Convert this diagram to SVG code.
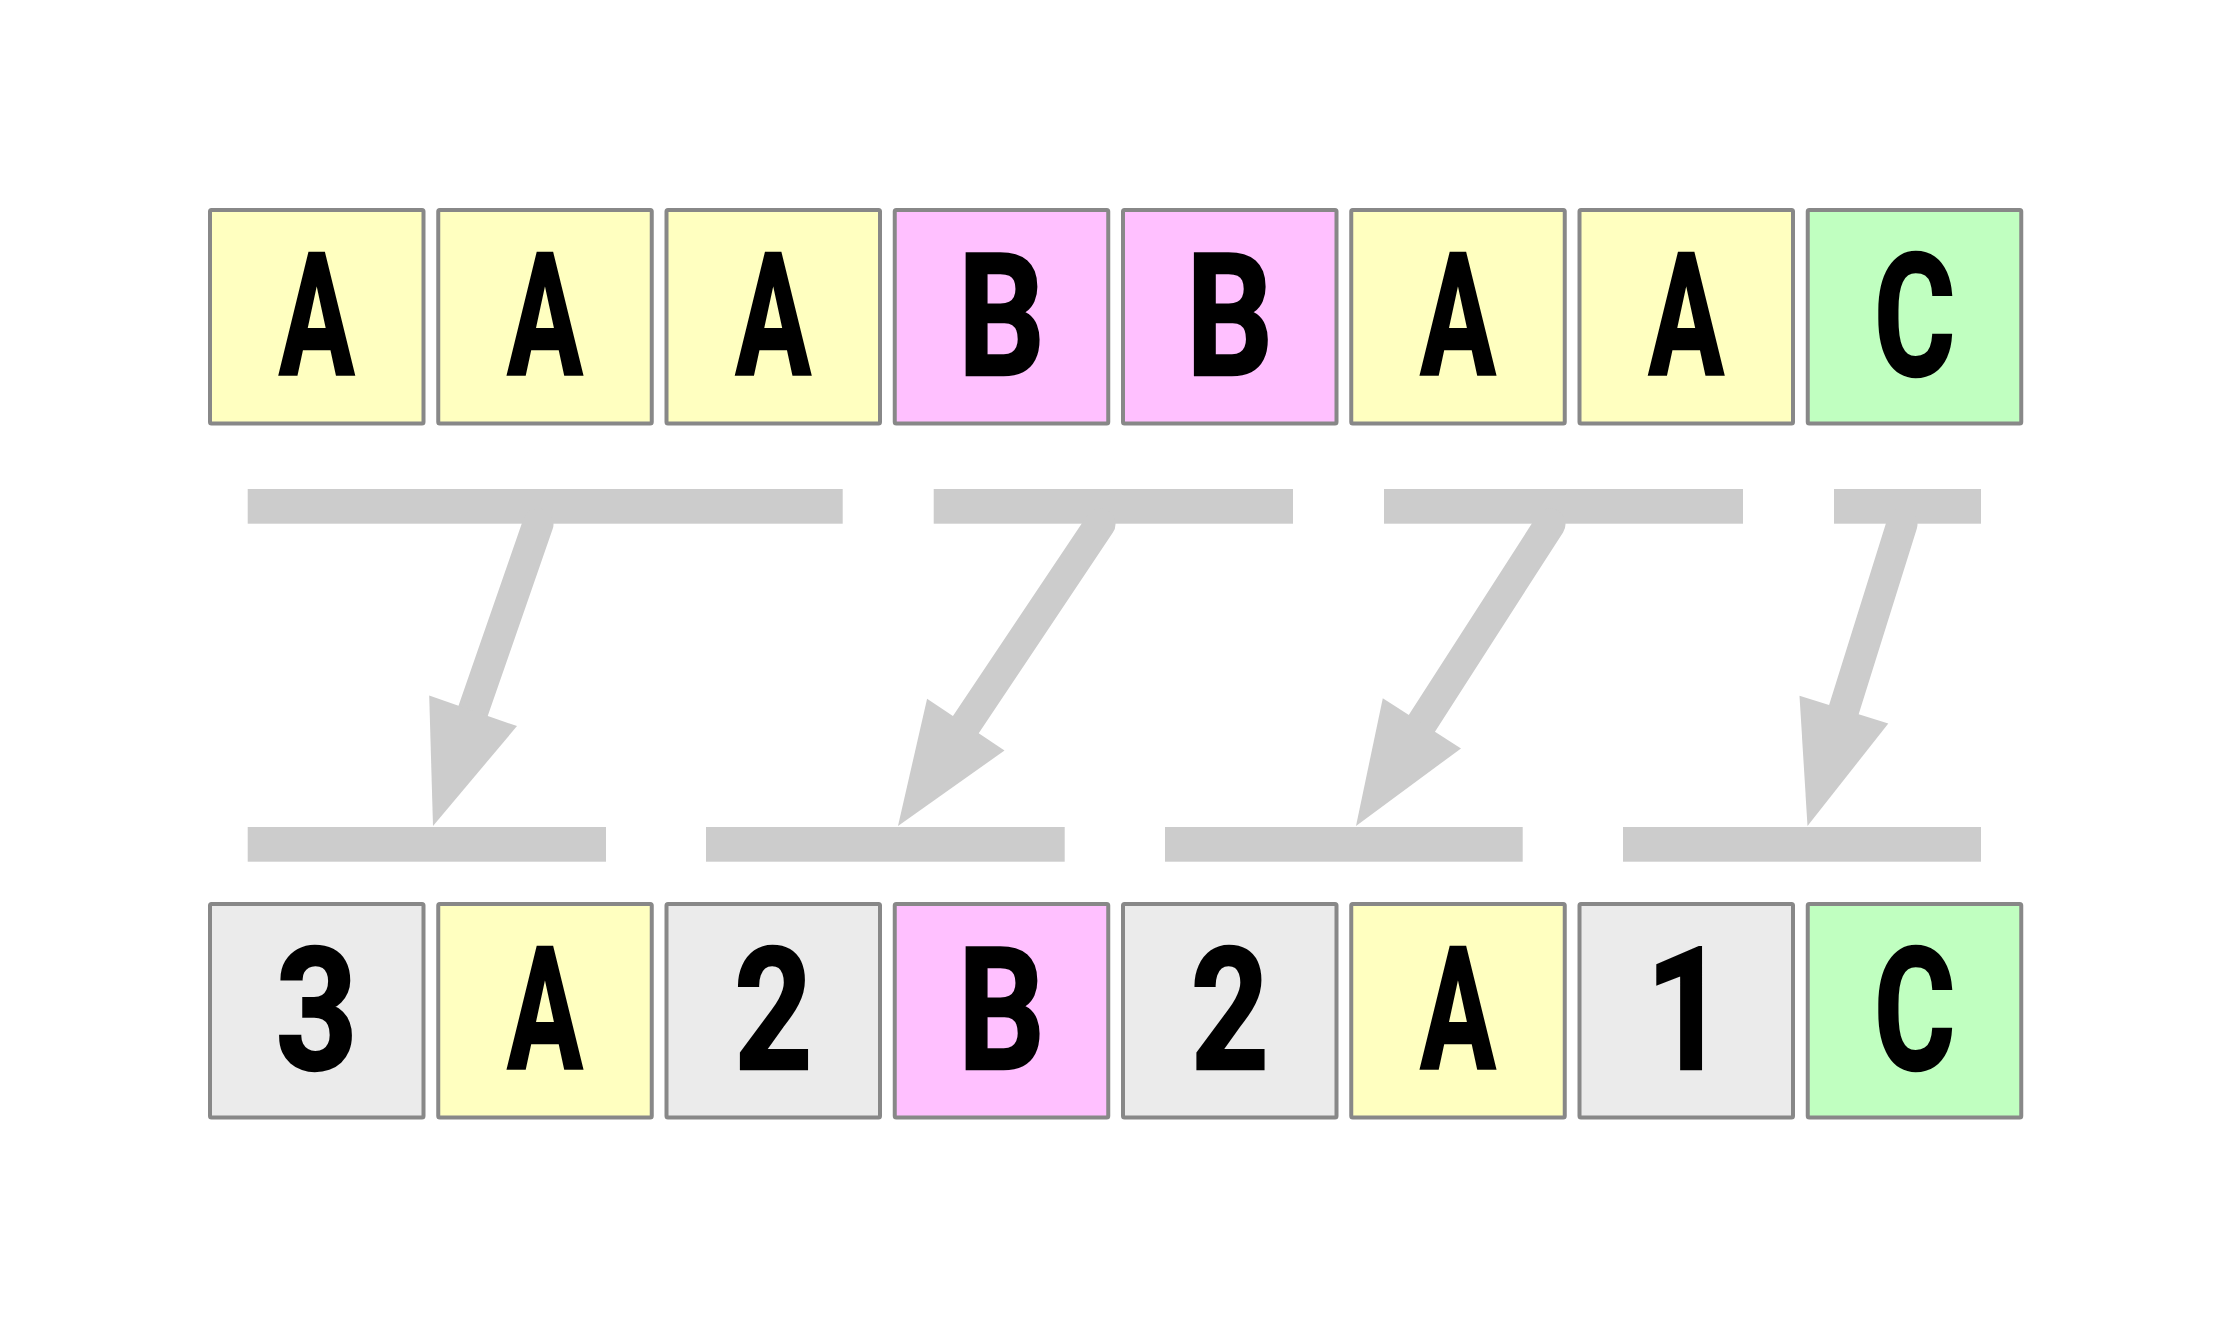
<svg xmlns="http://www.w3.org/2000/svg" width="2231" height="1329" viewBox="0 0 2231 1329">
<style>
.box{stroke:#888888;stroke-width:4}
.a{fill:#FFFFC0}.b{fill:#FFC0FF}.c{fill:#C0FFC0}.n{fill:#EBEBEB}
.t{font-family:Roboto,"Liberation Sans",sans-serif;font-weight:bold;font-size:170px;fill:#000;stroke:#000;stroke-width:2.5;stroke-linejoin:miter;text-anchor:middle}
.bar{fill:#CCCCCC}
.shaft{stroke:#CCCCCC;stroke-width:31;stroke-linecap:round;fill:none}
.head{fill:#CCCCCC}
</style>
<rect width="2231" height="1329" fill="#FFFFFF"/>
<g id="top-row">
<g id="t1"><rect class="box a" x="210" y="210" width="213.5" height="213.5" rx="1.5"/><text class="t" transform="translate(316.75,374.5) scale(0.66,1)">A</text></g>
<g id="t2"><rect class="box a" x="438.25" y="210" width="213.5" height="213.5" rx="1.5"/><text class="t" transform="translate(545,374.5) scale(0.66,1)">A</text></g>
<g id="t3"><rect class="box a" x="666.5" y="210" width="213.5" height="213.5" rx="1.5"/><text class="t" transform="translate(773.25,374.5) scale(0.66,1)">A</text></g>
<g id="t4"><rect class="box b" x="894.75" y="210" width="213.5" height="213.5" rx="1.5"/><text class="t" transform="translate(1001.5,374.5) scale(0.8,1)">B</text></g>
<g id="t5"><rect class="box b" x="1123" y="210" width="213.5" height="213.5" rx="1.5"/><text class="t" transform="translate(1229.75,374.5) scale(0.8,1)">B</text></g>
<g id="t6"><rect class="box a" x="1351.25" y="210" width="213.5" height="213.5" rx="1.5"/><text class="t" transform="translate(1458,374.5) scale(0.66,1)">A</text></g>
<g id="t7"><rect class="box a" x="1579.5" y="210" width="213.5" height="213.5" rx="1.5"/><text class="t" transform="translate(1686.25,374.5) scale(0.66,1)">A</text></g>
<g id="t8"><rect class="box c" x="1807.75" y="210" width="213.5" height="213.5" rx="1.5"/><text class="t" transform="translate(1914.5,374.5) scale(0.73,1)">C</text></g>
</g>
<g id="bottom-row">
<g id="b1"><rect class="box n" x="210" y="904" width="213.5" height="213.5" rx="1.5"/><text class="t" transform="translate(316.75,1068.5) scale(0.84,1)">3</text></g>
<g id="b2"><rect class="box a" x="438.25" y="904" width="213.5" height="213.5" rx="1.5"/><text class="t" transform="translate(545,1068.5) scale(0.66,1)">A</text></g>
<g id="b3"><rect class="box n" x="666.5" y="904" width="213.5" height="213.5" rx="1.5"/><text class="t" transform="translate(773.25,1068.5) scale(0.8,1)">2</text></g>
<g id="b4"><rect class="box b" x="894.75" y="904" width="213.5" height="213.5" rx="1.5"/><text class="t" transform="translate(1001.5,1068.5) scale(0.8,1)">B</text></g>
<g id="b5"><rect class="box n" x="1123" y="904" width="213.5" height="213.5" rx="1.5"/><text class="t" transform="translate(1229.75,1068.5) scale(0.8,1)">2</text></g>
<g id="b6"><rect class="box a" x="1351.25" y="904" width="213.5" height="213.5" rx="1.5"/><text class="t" transform="translate(1458,1068.5) scale(0.66,1)">A</text></g>
<g id="b7"><rect class="box n" x="1579.5" y="904" width="213.5" height="213.5" rx="1.5"/><text class="t" transform="translate(1686.25,1068.5) scale(0.83,1)">1</text></g>
<g id="b8"><rect class="box c" x="1807.75" y="904" width="213.5" height="213.5" rx="1.5"/><text class="t" transform="translate(1914.5,1068.5) scale(0.73,1)">C</text></g>
</g>
<g id="top-bars">
<rect class="bar" x="247.7" y="489" width="595" height="34.7"/>
<rect class="bar" x="933.7" y="489" width="359.3" height="34.7"/>
<rect class="bar" x="1384" y="489" width="359" height="34.7"/>
<rect class="bar" x="1834" y="489" width="147" height="34.7"/>
</g>
<g id="bottom-bars">
<rect class="bar" x="247.7" y="827" width="358.3" height="34.7"/>
<rect class="bar" x="706" y="827" width="358.7" height="34.7"/>
<rect class="bar" x="1165" y="827" width="357.7" height="34.7"/>
<rect class="bar" x="1623" y="827" width="358" height="34.7"/>
</g>
<g id="connectors">
<line class="shaft" x1="538" y1="524" x2="471.5" y2="715.5"/>
<polygon class="head" points="433,826 517,726.1 429.2,695.5"/>
<line class="shaft" x1="1100" y1="524" x2="963" y2="728.8"/>
<polygon class="head" points="898,826 1004.5,750.5 927.1,698.7"/>
<line class="shaft" x1="1550" y1="524" x2="1419.2" y2="727.5"/>
<polygon class="head" points="1356,826 1461,748.4 1382.8,698.2"/>
<line class="shaft" x1="1902" y1="524" x2="1842.4" y2="714.4"/>
<polygon class="head" points="1807.5,826 1888.3,723.5 1799.5,695.7"/>
</g>
</svg>
